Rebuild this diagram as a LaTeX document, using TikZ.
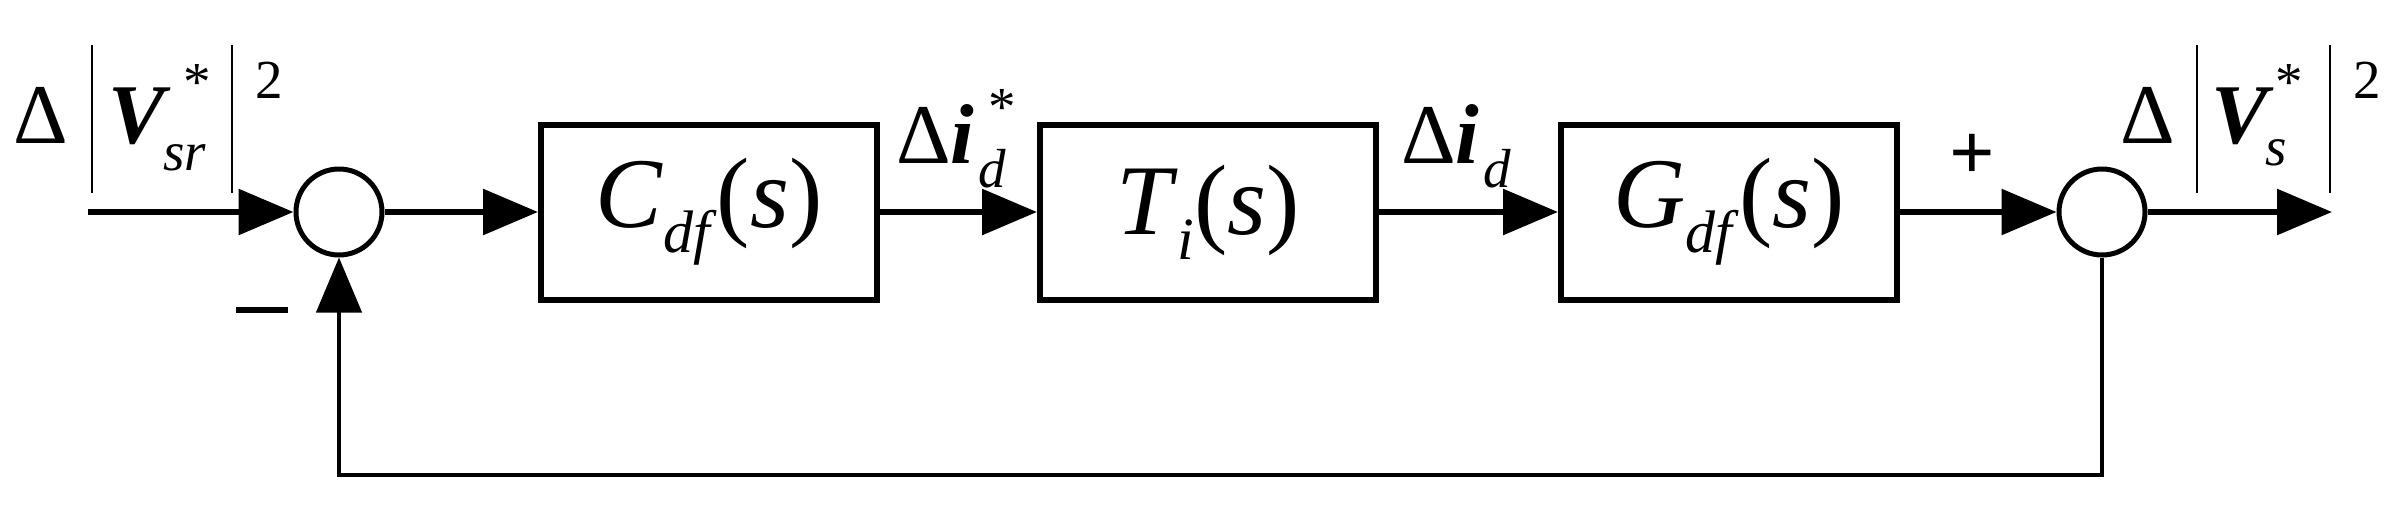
\documentclass[tikz,border=0pt]{standalone}
\usepackage{fontspec}
\setmainfont{Liberation Serif}
\usetikzlibrary{arrows.meta}
\begin{document}
\begin{tikzpicture}[x=1pt,y=-1pt,
  line width=6pt,
  blk/.style={draw,minimum width=336pt,minimum height=175pt,inner sep=0pt,font=\fontsize{100}{100}\selectfont},
  sum/.style={draw,circle,minimum size=86pt,inner sep=0pt,line width=5pt},
  arr/.style={-{Triangle[length=55pt,width=45pt]}},
  lbl/.style={inner sep=0pt,font=\fontsize{85}{85}\selectfont},
  sm/.style={inner sep=0pt,font=\fontsize{55}{55}\selectfont}]
\useasboundingbox (0,0) rectangle (2390,517);
\node[sum] (s1) at (339,212) {};
\node[blk] (b1) at (709,212) {\textit{C}\raisebox{-0.25em}{\fontsize{60}{60}\selectfont\textit{df}}(\textit{s})};
\node[blk] (b2) at (1208,212) {\textit{T}\raisebox{-0.25em}{\fontsize{60}{60}\selectfont\textit{i}}(\textit{s})};
\node[blk] (b3) at (1729,212) {\textit{G}\raisebox{-0.25em}{\fontsize{60}{60}\selectfont\textit{df}}(\textit{s})};
\node[sum] (s2) at (2102,212) {};
\coordinate (in) at (88,212);
\coordinate (out) at (2332,212);
\coordinate (fb1) at (2102,475);
\coordinate (fb2) at (339,475);
\draw[arr] (in) -- (s1.west);
\draw[arr] (s1.east) -- (b1.west);
\draw[arr] (b1.east) -- (b2.west);
\draw[arr] (b2.east) -- (b3.west);
\draw[arr] (b3.east) -- (s2.west);
\draw[arr] (s2.east) -- (out);
\draw[arr,line width=4.5pt] (s2.south) -- (fb1) -- (fb2) -- (s1.south);
% labels
\node[lbl,anchor=base west] (l1) at (10,143) {Δ};
\draw[line width=2.5pt] (92,45) -- (92,193) (232,45) -- (232,193);
\node[lbl,anchor=base west] (l1v) at (105,143) {\textbf{\textit{V}}};
\node[sm,anchor=base west] (l1s) at (160,170) {\textit{sr}};
\node[sm,anchor=base west] (l1a) at (180,100) {*};
\node[sm,anchor=base west] (l1e) at (252,98) {2};
\node[lbl,anchor=base west] (l2) at (893,163) {Δ\textbf{\textit{i}}};
\node[sm,anchor=base west] (l2s) at (975,187) {\textit{d}};
\node[sm,anchor=base west] (l2a) at (985,125) {*};
\node[lbl,anchor=base west] (l3) at (1398,163) {Δ\textbf{\textit{i}}};
\node[sm,anchor=base west] (l3s) at (1480,187) {\textit{d}};
\node[lbl,anchor=base west] (l4) at (2117,143) {Δ};
\draw[line width=2.5pt] (2197,45) -- (2197,193) (2330,45) -- (2330,193);
\node[lbl,anchor=base west] (l4v) at (2208,143) {\textbf{\textit{V}}};
\node[sm,anchor=base west] (l4s) at (2262,165) {\textit{s}};
\node[sm,anchor=base west] (l4a) at (2272,100) {*};
\node[sm,anchor=base west] (l4e) at (2350,98) {2};
\node[font=\fontsize{80}{80}\selectfont\bfseries] (plus) at (1972,157) {+};
\draw[line width=6pt] (236,310) -- (288,310);
\end{tikzpicture}
\end{document}
